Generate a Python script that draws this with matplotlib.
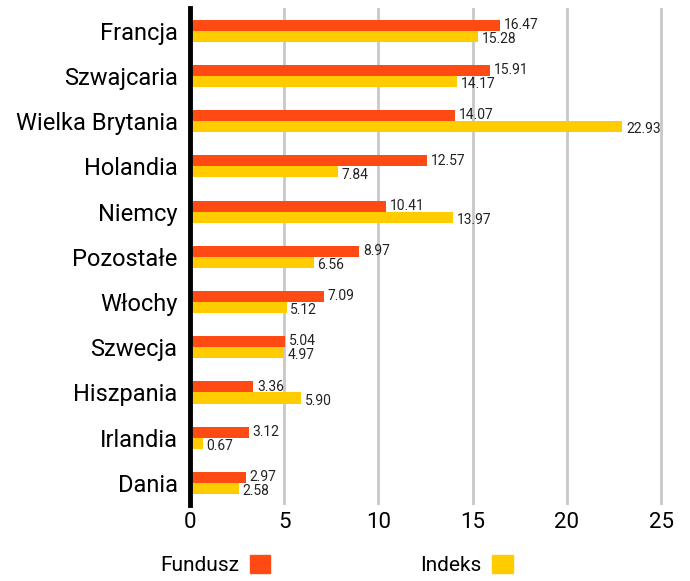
import matplotlib
matplotlib.use("Agg")
import matplotlib.pyplot as plt
import numpy as np
from matplotlib.patches import Patch

categories = ["Francja", "Szwajcaria", "Wielka Brytania", "Holandia", "Niemcy",
              "Pozostałe", "Włochy", "Szwecja", "Hiszpania", "Irlandia", "Dania"]
fundusz = [16.47, 15.91, 14.07, 12.57, 10.41, 8.97, 7.09, 5.04, 3.36, 3.12, 2.97]
indeks = [15.28, 14.17, 22.93, 7.84, 13.97, 6.56, 5.12, 4.97, 5.90, 0.67, 2.58]
xticks = [0, 5, 10, 15, 20, 25]

c_f = "#FF4A14"
c_i = "#FFCC00"

plt.rcParams['font.family'] = ['Roboto', 'DejaVu Sans']

fig = plt.figure(figsize=(6.9, 5.81), dpi=100)
ax = fig.add_axes([0.2754, 0.130, 0.6855, 0.856])

y = np.arange(len(categories))
h = 0.245
ax.barh(y - h / 2, fundusz, height=h, color=c_f, zorder=3)
ax.barh(y + h / 2, indeks, height=h, color=c_i, zorder=3)

for yi, v in zip(y, fundusz):
    ax.text(v + 0.2, yi - h / 2 - 0.005, f"{v:.2f}", va="center", ha="left", fontsize=10, color="#222222")
for yi, v in zip(y, indeks):
    ax.text(v + 0.2, yi + h / 2 + 0.06, f"{v:.2f}", va="center", ha="left", fontsize=10, color="#222222")

ax.set_ylim(len(categories) - 0.5, -0.5)
ax.set_xlim(0, 25.1)
ax.set_yticks(y)
ax.set_yticklabels(categories, fontsize=17)
ax.set_xticks(xticks)
ax.set_xticklabels([str(t) for t in xticks], fontsize=16)
ax.tick_params(length=0, pad=9)
ax.tick_params(axis='x', pad=5)
for s in ["top", "right", "bottom"]:
    ax.spines[s].set_visible(False)
ax.spines["left"].set_linewidth(3.5)
ax.spines["left"].set_color("black")
ax.spines["left"].set_zorder(5)
ax.xaxis.grid(True, color="#c8c8c8", linewidth=2, zorder=0)
ax.set_axisbelow(True)

handles = [Patch(color=c_f), Patch(color=c_i)]
fig.legend(handles, ["Fundusz", "Indeks"], loc="lower left", bbox_to_anchor=(0.205, -0.022),
           ncol=2, markerfirst=False, frameon=False, fontsize=15,
           handlelength=1.0, handleheight=1.0, columnspacing=7.2, handletextpad=0.5)

fig.savefig("out.png", dpi=100)
